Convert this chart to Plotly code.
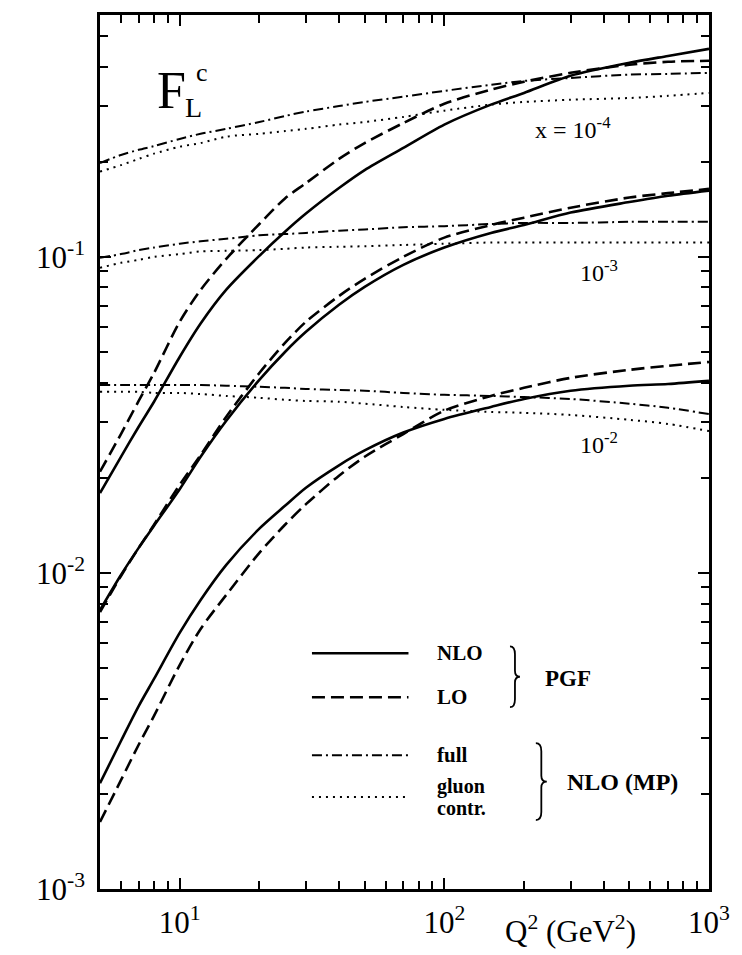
import plotly.graph_objects as go
import numpy as np

# Q^2 grid (GeV^2)
q2 = [5, 6, 7, 8, 10, 12, 15, 20, 25, 30, 40, 50, 70, 100, 150, 200, 300, 500, 700, 1000]

# x = 1e-4
pgf_nlo_4 = [0.0179, 0.0233, 0.0290, 0.0348, 0.0482, 0.0615, 0.0787, 0.1007, 0.120, 0.137,
             0.165, 0.188, 0.221, 0.262, 0.303, 0.330, 0.374, 0.411, 0.432, 0.455]
pgf_lo_4 = [0.0209, 0.0275, 0.0350, 0.0429, 0.0623, 0.0786, 0.0985, 0.127, 0.153, 0.171,
            0.204, 0.229, 0.265, 0.305, 0.338, 0.358, 0.382, 0.405, 0.414, 0.417]
mp_full_4 = [0.198, 0.210, 0.218, 0.224, 0.236, 0.245, 0.254, 0.267, 0.279, 0.288,
             0.300, 0.309, 0.321, 0.335, 0.350, 0.360, 0.368, 0.377, 0.379, 0.382]
mp_glue_4 = [0.186, 0.195, 0.204, 0.212, 0.223, 0.229, 0.240, 0.245, 0.250, 0.254,
             0.262, 0.267, 0.277, 0.290, 0.303, 0.309, 0.314, 0.318, 0.323, 0.330]

# x = 1e-3
pgf_nlo_3 = [0.00763, 0.00985, 0.0120, 0.0141, 0.0184, 0.0233, 0.0303, 0.0408, 0.0500, 0.0579,
             0.0705, 0.0803, 0.0943, 0.107, 0.119, 0.126, 0.138, 0.149, 0.156, 0.162]
pgf_lo_3 = [0.00752, 0.00978, 0.0120, 0.0142, 0.0190, 0.0236, 0.0312, 0.0429, 0.0534, 0.0623,
            0.0752, 0.0852, 0.100, 0.115, 0.126, 0.133, 0.143, 0.154, 0.159, 0.164]
mp_full_3 = [0.0993, 0.102, 0.105, 0.107, 0.110, 0.112, 0.114, 0.117, 0.118, 0.119,
             0.121, 0.122, 0.124, 0.125, 0.127, 0.128, 0.128, 0.129, 0.129, 0.129]
mp_glue_3 = [0.0923, 0.0957, 0.0978, 0.100, 0.102, 0.104, 0.1045, 0.105, 0.106, 0.107,
             0.1076, 0.108, 0.109, 0.110, 0.111, 0.111, 0.111, 0.111, 0.111, 0.111]

# x = 1e-2
pgf_nlo_2 = [0.00216, 0.00294, 0.00379, 0.00462, 0.00646, 0.00821, 0.0106, 0.0138, 0.0163, 0.0186,
             0.0219, 0.0244, 0.0278, 0.0307, 0.0335, 0.0355, 0.0377, 0.0391, 0.0396, 0.0405]
pgf_lo_2 = [0.00163, 0.00221, 0.00286, 0.00353, 0.00511, 0.00665, 0.00852, 0.01157, 0.0142, 0.0165,
            0.0203, 0.0233, 0.0275, 0.0326, 0.0363, 0.0385, 0.0414, 0.0439, 0.0452, 0.0465]
mp_full_2 = [0.0393, 0.0393, 0.0393, 0.0393, 0.0393, 0.0393, 0.0391, 0.0388, 0.0385, 0.0382,
             0.0379, 0.0377, 0.0371, 0.0366, 0.0363, 0.0360, 0.0355, 0.0343, 0.0333, 0.0318]
mp_glue_2 = [0.0374, 0.0374, 0.0374, 0.0371, 0.0371, 0.0368, 0.0363, 0.0358, 0.0353, 0.0350,
             0.0348, 0.0343, 0.0335, 0.0328, 0.0323, 0.0321, 0.0316, 0.0305, 0.0296, 0.0281]

y_tickvals = [1e-3, 1e-2, 1e-1]
y_ticktext = ["10<sup>-3</sup>", "10<sup>-2</sup>", "10<sup>-1</sup>"]
x_tickvals = [10, 100, 1000]
x_ticktext = ["10<sup>1</sup>", "10<sup>2</sup>", "10<sup>3</sup>"]

SERIF = "Liberation Serif"
styles = {
    "nlo": dict(color="black", width=2.6, dash="solid"),
    "lo": dict(color="black", width=2.6, dash="13px,6px"),
    "full": dict(color="black", width=2.0, dash="10px,4px,2px,4px"),
    "glue": dict(color="black", width=2.0, dash="2px,5px"),
}

fig = go.Figure()
series = [
    (pgf_nlo_4, "nlo"), (pgf_lo_4, "lo"), (mp_full_4, "full"), (mp_glue_4, "glue"),
    (pgf_nlo_3, "nlo"), (pgf_lo_3, "lo"), (mp_full_3, "full"), (mp_glue_3, "glue"),
    (pgf_nlo_2, "nlo"), (pgf_lo_2, "lo"), (mp_full_2, "full"), (mp_glue_2, "glue"),
]
for vals, st in series:
    fig.add_trace(go.Scatter(x=q2, y=vals, mode="lines", line=dict(shape="spline", smoothing=0.8, **styles[st]),
                             showlegend=False, hoverinfo="skip"))

minor_x = [k * 10 ** n for n in range(0, 3) for k in range(2, 10)]
minor_y = [k * 10 ** n for n in range(-3, 0) for k in range(2, 10)]

TICKFONT = dict(family=SERIF, size=31, color="black")
axis_common = dict(showgrid=False, zeroline=False, showline=True, linecolor="black", linewidth=2.5,
                   mirror="allticks", ticks="inside", ticklen=11, tickwidth=1.5, tickcolor="black")
fig.update_xaxes(type="log", range=[np.log10(5), 3], tickmode="array", tickvals=x_tickvals, ticktext=x_ticktext,
                 ticklabelstandoff=4, tickfont=TICKFONT,
                 minor=dict(tickvals=minor_x, ticks="inside", ticklen=8, tickwidth=1.5, tickcolor="black",
                            showgrid=False),
                 **axis_common)
fig.update_yaxes(type="log", range=[-3, -0.235], tickmode="array", tickvals=y_tickvals, ticktext=y_ticktext,
                 ticklabelstandoff=6, tickfont=TICKFONT,
                 minor=dict(tickvals=minor_y, ticks="inside", ticklen=8, tickwidth=1.5, tickcolor="black",
                            showgrid=False),
                 **axis_common)

L, R, T, B = 100, 30, 14, 66
W, H = 742, 955
pw, ph = W - L - R, H - T - B


def px(x):
    return (x - L) / pw


def py(y):
    return (H - B - y) / ph


shapes = []
# legend sample lines
for yy, st in [(653, "nlo"), (697, "lo"), (755, "full"), (797, "glue")]:
    shapes.append(dict(type="line", xref="paper", yref="paper", x0=px(313), x1=px(410), y0=py(yy), y1=py(yy),
                       line=styles[st]))


def brace(x0, ytop, ybot, w):
    ym = (ytop + ybot) / 2
    xm = x0 + w / 2
    xt = x0 + w
    pts = (f"M {px(x0)},{py(ytop)} "
           f"Q {px(xm)},{py(ytop)} {px(xm)},{py(ytop + 8)} "
           f"L {px(xm)},{py(ym - 6)} "
           f"Q {px(xm)},{py(ym)} {px(xt)},{py(ym)} "
           f"Q {px(xm)},{py(ym)} {px(xm)},{py(ym + 6)} "
           f"L {px(xm)},{py(ybot - 8)} "
           f"Q {px(xm)},{py(ybot)} {px(x0)},{py(ybot)}")
    return dict(type="path", xref="paper", yref="paper", path=pts, line=dict(color="black", width=1.8))


shapes.append(brace(512, 646, 707, 10))
shapes.append(brace(538, 743, 820, 11))
fig.update_layout(shapes=shapes)

ann = []


def text(x, y, s, size, anchor="left", yanchor="middle"):
    ann.append(dict(x=px(x), y=py(y), xref="paper", yref="paper", text=s, showarrow=False,
                    xanchor=anchor, yanchor=yanchor, font=dict(family=SERIF, size=size, color="black")))


text(437, 653, "<b>NLO</b>", 21)
text(437, 697, "<b>LO</b>", 21)
text(545, 678, "<b>PGF</b>", 23)
text(437, 755, "<b>full</b>", 21)
text(437, 786, "<b>gluon</b>", 20)
text(437, 808, "<b>contr.</b>", 20)
text(567, 782, "<b>NLO (MP)</b>", 24)
text(575, 127, "x = 10<sup>-4</sup>", 24, anchor="center")
text(601, 270, "10<sup>-3</sup>", 24, anchor="center")
text(601, 442, "10<sup>-2</sup>", 24, anchor="center")
text(155, 90, "F", 52)
text(183, 107, "L", 28)
text(194, 72, "c", 26)
text(573, 930, "Q<sup>2</sup> (GeV<sup>2</sup>)", 31, anchor="center")
fig.update_layout(annotations=ann)

fig.update_layout(width=W, height=H, margin=dict(l=L, r=R, t=T, b=B), plot_bgcolor="white",
                  paper_bgcolor="white", showlegend=False)

fig.write_html("out.html")
